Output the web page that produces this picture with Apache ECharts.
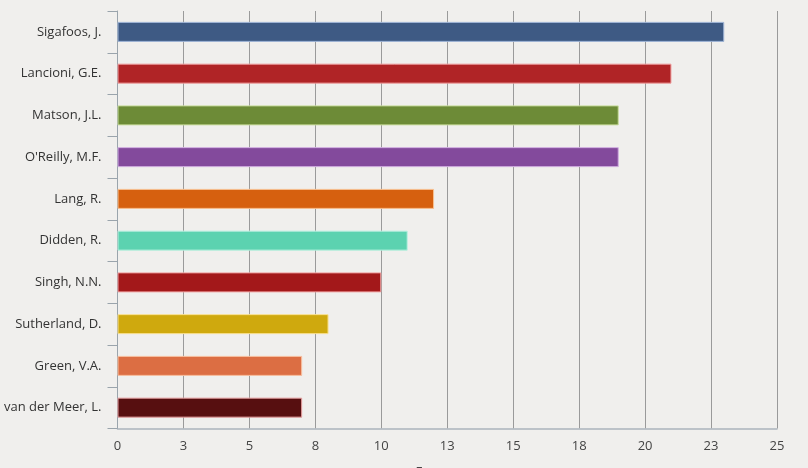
<!DOCTYPE html>
<html>
<head>
  <meta charset="utf-8" />
  <script src="https://cdn.jsdelivr.net/npm/echarts@6/dist/echarts.min.js"></script>
  <style>
    html, body { margin: 0; padding: 0; background: #f0efed; }
    #main { width: 808px; height: 468px; }
  </style>
</head>
<body>
  <div id="main"></div>
  <script>
    // authors, top to bottom
    var authors = ['Sigafoos, J.', 'Lancioni, G.E.', 'Matson, J.L.', "O'Reilly, M.F.", 'Lang, R.',
      'Didden, R.', 'Singh, N.N.', 'Sutherland, D.', 'Green, V.A.', 'van der Meer, L.'];
    var counts = [23, 21, 19, 19, 12, 11, 10, 8, 7, 7];
    var barColors = ['#3e5a84', '#b02426', '#6d8b37', '#834a9c', '#d6600f',
      '#5cd2b0', '#a3181a', '#cfa90e', '#dc6e43', '#570f10'];
    var edgeColors = ['#9fb4d6', '#f0a0a0', '#c8dc9c', '#d0aee0', '#f8c090',
      '#b8f0e0', '#f0a0a0', '#f8e090', '#f8c0a0', '#e8a0a0'];

    var chart = echarts.init(document.getElementById('main'));

    var option = {
      backgroundColor: '#f0efed',
      animation: false,
      grid: { left: 117.5, right: 31, top: 11, bottom: 39.5, outerBoundsMode: 'none' },
      xAxis: {
        type: 'value',
        min: 0,
        max: 25,
        interval: 2.5,
        name: 'Frequency',
        nameLocation: 'middle',
        nameGap: 37,
        nameTextStyle: { color: '#444', fontSize: 13, fontFamily: 'Open Sans', verticalAlign: 'top' },
        axisLine: { show: true, lineStyle: { color: '#aab4bc', width: 1.5 } },
        axisTick: { show: false },
        axisLabel: {
          color: '#444',
          fontSize: 13,
          fontFamily: 'Open Sans',
          margin: 11,
          formatter: function (v) { return Math.round(v); }
        },
        splitLine: { show: true, lineStyle: { color: '#9a9a9a', width: 1 } }
      },
      yAxis: {
        type: 'category',
        data: authors,
        inverse: true,
        axisLine: { show: true, lineStyle: { color: '#9aa4ac', width: 1 } },
        axisTick: { show: true, length: 10, lineStyle: { color: '#9aa4ac' } },
        axisLabel: { color: '#333', fontSize: 13, fontFamily: 'Open Sans', margin: 16 },
        splitLine: { show: false }
      },
      series: [{
        type: 'bar',
        barWidth: 20,
        data: counts.map(function (v, i) {
          return {
            value: v,
            itemStyle: { color: barColors[i], borderColor: edgeColors[i], borderWidth: 1 }
          };
        })
      }]
    };

    chart.setOption(option);
  </script>
</body>
</html>
